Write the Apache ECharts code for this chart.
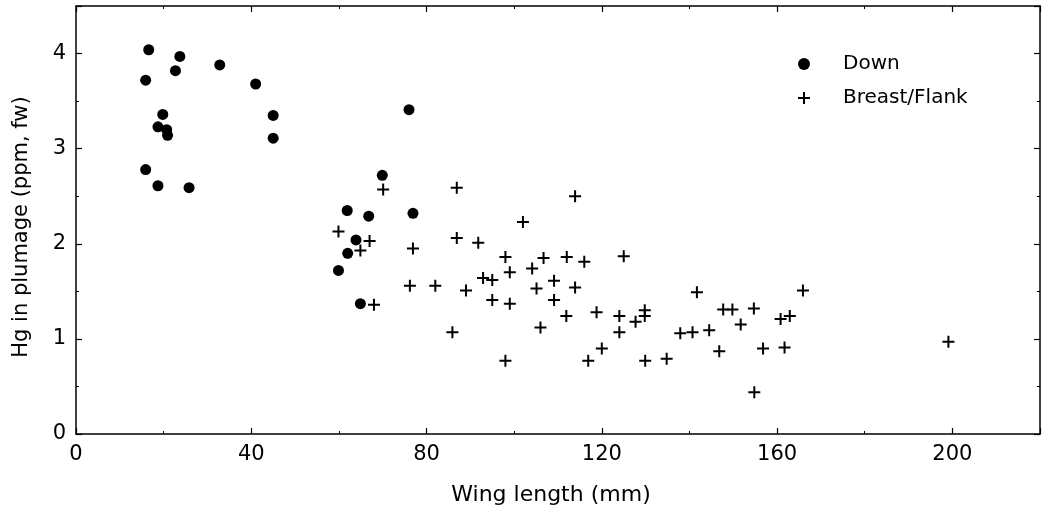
<!DOCTYPE html>
<html><head><meta charset="utf-8">
<script src="https://cdn.jsdelivr.net/npm/echarts@6/dist/echarts.min.js"></script>
<style>html,body{margin:0;padding:0;background:#fff}#c{width:1043px;height:513px}</style>
</head><body><div id="c"></div>
<script>
const xTicks = [0, 40, 80, 120, 160, 200];
const yTicks = [0, 1, 2, 3, 4];
const downX = [16.6,23.7,22.7,15.9,32.8,41.0,45.0,45.0,19.8,18.7,20.7,20.9,15.9,18.7,25.8,76.0,69.9,61.9,66.8,76.9,63.9,62.0,59.9,64.9];
const downY = [4.04,3.97,3.82,3.72,3.88,3.68,3.35,3.11,3.36,3.23,3.20,3.14,2.78,2.61,2.59,3.41,2.72,2.35,2.29,2.32,2.04,1.90,1.72,1.37];
const breastX = [70.1,86.9,102,59.9,67.0,86.9,91.8,76.9,64.9,98.0,106.7,99.0,104.1,92.9,95.0,105.1,76.2,82.0,89.0,95.0,99.0,68.0,106.0,85.9,98.0,
  113.9,125.0,112.0,116.0,109.1,113.9,109.1,111.9,118.8,124.0,124.0,127.7,129.8,129.8,120.0,116.9,129.9,134.8,137.9,140.7,144.5,141.7,147.7,149.8,154.7,151.7,146.8,156.8,161.7,160.8,162.9,165.9,154.8,199.1];
const breastY = [2.57,2.59,2.23,2.13,2.03,2.06,2.01,1.95,1.93,1.86,1.85,1.70,1.74,1.64,1.62,1.53,1.56,1.56,1.51,1.41,1.37,1.36,1.12,1.07,0.77,
  2.50,1.87,1.86,1.81,1.61,1.54,1.41,1.24,1.28,1.24,1.07,1.18,1.30,1.24,0.90,0.77,0.77,0.79,1.06,1.07,1.09,1.49,1.31,1.31,1.32,1.15,0.87,0.90,0.91,1.21,1.24,1.51,0.44,0.97];

const plus = 'path://M5,0H7V5H12V7H7V12H5V7H0V5H5Z';
const font = 'DejaVu Sans, Liberation Sans, Arial, sans-serif';
const axisCommon = {
  axisLine: {show: true, onZero: false, lineStyle: {color: '#000', width: 1.5}},
  axisTick: {show: true, inside: true, length: 6, lineStyle: {color: '#000', width: 1.2}},
  minorTick: {show: true, splitNumber: 2, length: 3, lineStyle: {color: '#000'}},
  splitLine: {show: false}
};
const chart = echarts.init(document.getElementById('c'));
chart.setOption({
  animation: false,
  backgroundColor: '#fff',
  grid: {left: 76, right: -2, top: 6, bottom: 79, containLabel: false},
  legend: {
    orient: 'vertical', left: 793, top: 49, itemGap: 14, itemWidth: 12, itemHeight: 12,
    textStyle: {fontFamily: font, fontSize: 20, color: '#000', padding: [0,0,0,28]},
    data: [{name: 'Down', icon: 'circle'}, {name: 'Breast/Flank', icon: plus}]
  },
  xAxis: [Object.assign({}, axisCommon, {
    type: 'value', min: 0, max: 220, interval: 40, position: 'bottom',
    name: 'Wing length (mm)', nameLocation: 'middle', nameGap: 50,
    nameTextStyle: {fontFamily: font, fontSize: 22, color: '#000', padding: [0, 14, 0, 0]},
    axisLabel: {fontFamily: font, fontSize: 21, color: '#000', margin: 10,
      formatter: v => xTicks.includes(v) ? String(v) : ''}
  }), Object.assign({}, axisCommon, {
    type: 'value', min: 0, max: 220, interval: 40, position: 'top',
    axisLabel: {show: false}
  })],
  yAxis: [Object.assign({}, axisCommon, {
    type: 'value', min: 0, max: 4.5, interval: 1, position: 'left',
    name: 'Hg in plumage (ppm, fw)', nameLocation: 'middle', nameGap: 44,
    nameTextStyle: {fontFamily: font, fontSize: 21, color: '#000', padding: [0, 14, 0, 0]},
    axisLabel: {fontFamily: font, fontSize: 21, color: '#000', margin: 10,
      formatter: v => yTicks.includes(v) ? String(v) : ''}
  }), Object.assign({}, axisCommon, {
    type: 'value', min: 0, max: 4.5, interval: 1, position: 'right',
    axisLabel: {show: false}
  })],
  series: [{
    name: 'Down', type: 'scatter', symbol: 'circle', symbolSize: 11,
    itemStyle: {color: '#000', opacity: 1},
    data: downX.map((x, i) => [x, downY[i]])
  }, {
    name: 'Breast/Flank', type: 'scatter', symbol: plus, symbolSize: 12,
    itemStyle: {color: '#000', opacity: 1},
    data: breastX.map((x, i) => [x, breastY[i]])
  }]
});
</script></body></html>
